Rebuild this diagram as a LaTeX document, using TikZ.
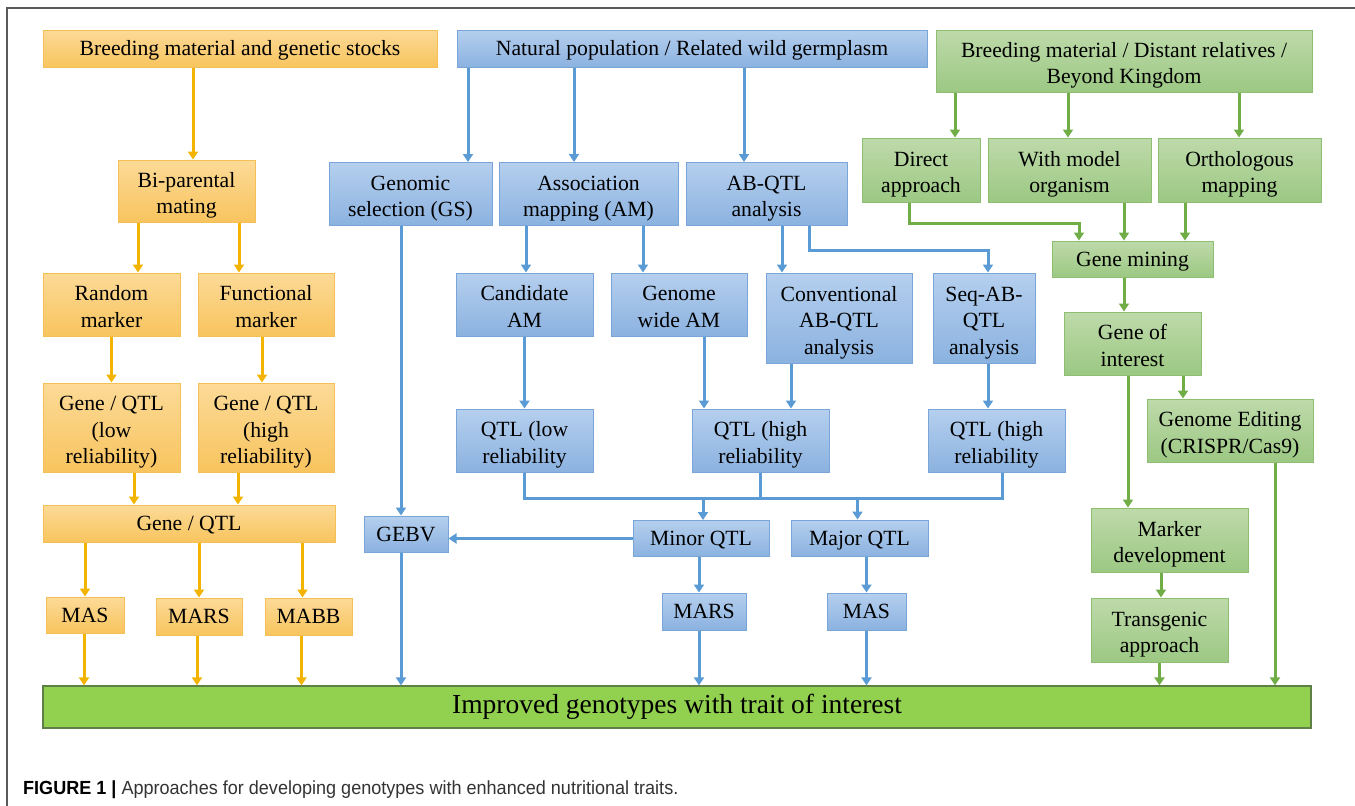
\documentclass[tikz,border=0pt]{standalone}
\usepackage{fontspec}
\setmainfont{Liberation Serif}
\newfontfamily\capfont[FakeStretch=0.95]{Liberation Sans}
\usetikzlibrary{arrows.meta}

\definecolor{orgtop}{HTML}{FCDA97}
\definecolor{orgbot}{HTML}{F8C45E}
\definecolor{orgline}{HTML}{F4BF55}
\definecolor{orgarr}{HTML}{F2B400}
\definecolor{blutop}{HTML}{B5CFEE}
\definecolor{blubot}{HTML}{8BB2E0}
\definecolor{bluline}{HTML}{79A5D8}
\definecolor{bluarr}{HTML}{5B9BD5}
\definecolor{grntop}{HTML}{BEDAAA}
\definecolor{grnbot}{HTML}{9CC883}
\definecolor{grnline}{HTML}{8DBE72}
\definecolor{grnarr}{HTML}{70AD47}
\definecolor{barfill}{HTML}{92D050}
\definecolor{barline}{HTML}{5E7F45}
\definecolor{framegray}{HTML}{5A5A5A}
\definecolor{capgray}{HTML}{333333}

\newcommand{\boxfont}{\fontsize{21.7}{26.5}\selectfont}
% struts with the ascent and descent of the box font
\newcommand{\bstrut}{\rule[-4.7pt]{0pt}{24pt}}
\newcommand{\up}{\rule{0pt}{24pt}}

\begin{document}
\begin{tikzpicture}[x=1pt, y=-1pt,
  box/.style={draw, line width=1pt, align=center, inner sep=0pt, font=\boxfont,
    execute at begin node=\bstrut, execute at end node=\bstrut},
  sz/.style 2 args={minimum width=#1pt, minimum height=#2pt},
  ybox/.style={box, draw=orgline, top color=orgtop, bottom color=orgbot},
  bbox/.style={box, draw=bluline, top color=blutop, bottom color=blubot},
  gbox/.style={box, draw=grnline, top color=grntop, bottom color=grnbot},
  yarr/.style={draw=orgarr, line width=3pt, -{Triangle[width=10pt,length=8pt]}},
  barr/.style={draw=bluarr, line width=3pt, -{Triangle[width=10pt,length=8pt]}},
  garr/.style={draw=grnarr, line width=3pt, -{Triangle[width=10pt,length=8pt]}},
  bline/.style={draw=bluarr, line width=3pt}]

\useasboundingbox (0,0) rectangle (1355,806);

% frame
\draw[framegray, line width=1.5pt] (7,806) -- (7,8) -- (1355,8);

% orange column
\node[ybox, sz={394}{37}] (bms) at (240,48.5) {Breeding material and genetic stocks};
\node[ybox, sz={137}{62}] (bip) at (186.5,191) {\up Bi-parental\\mating};
\node[ybox, sz={137}{63}] (rnd) at (111.5,304.5) {\up Random\\marker};
\node[ybox, sz={136}{63}] (fun) at (266,304.5) {\up Functional\\marker};
\node[ybox, sz={137}{89}] (glow) at (111.5,427.5) {\up Gene / QTL\\(low\\reliability)};
\node[ybox, sz={136}{89}] (ghigh) at (266,427.5) {\up Gene / QTL\\(high\\reliability)};
\node[ybox, sz={292}{37}] (gq) at (189,523.5) {Gene / QTL};
\node[ybox, sz={78}{36}] (omas) at (85,615) {MAS};
\node[ybox, sz={86}{37}] (omars) at (199,616.5) {MARS};
\node[ybox, sz={87}{37}] (omabb) at (308.5,616.5) {MABB};

% blue column
\node[bbox, sz={470}{37}] (nat) at (692,48.5) {Natural population / Related wild germplasm};
\node[bbox, sz={163}{63}] (gs) at (410.5,194) {\up Genomic\\selection (GS)};
\node[bbox, sz={179}{63}] (am) at (588.5,194) {\up Association\\mapping (AM)};
\node[bbox, sz={161}{63}] (abq) at (766.5,194) {\up AB-QTL\\analysis};
\node[bbox, sz={137}{63}] (cam) at (524.5,304.5) {\up Candidate\\AM};
\node[bbox, sz={136}{63}] (gwam) at (679,304.5) {\up Genome\\wide AM};
\node[bbox, sz={146}{90}] (cab) at (839,318) {\up Conventional\\AB-QTL\\analysis};
\node[bbox, sz={102}{90}] (sab) at (984,318) {\up Seq-AB-\\QTL\\analysis};
\node[bbox, sz={137}{63}] (qlow) at (524.5,440.5) {\up QTL (low\\reliability};
\node[bbox, sz={137}{63}] (qhigh) at (760.5,440.5) {\up QTL (high\\reliability};
\node[bbox, sz={137}{63}] (qhigh2) at (996.5,440.5) {\up QTL (high\\reliability};
\node[bbox, sz={84}{36}] (gebv) at (406,534) {GEBV};
\node[bbox, sz={136}{36}] (minq) at (701,538.5) {Minor QTL};
\node[bbox, sz={137}{36}] (majq) at (859.5,538) {Major QTL};
\node[bbox, sz={84}{37}] (bmars) at (704,611.5) {MARS};
\node[bbox, sz={79}{37}] (bmas) at (866.5,611.5) {MAS};

% green column
\node[gbox, sz={376}{62}] (brd) at (1124,61) {\up Breeding material / Distant relatives /\\Beyond Kingdom};
\node[gbox, sz={118}{64}] (dir) at (921,170) {\up Direct\\approach};
\node[gbox, sz={163}{64}] (mod) at (1069.5,170) {\up With model\\organism};
\node[gbox, sz={163}{64}] (orth) at (1239.5,170) {\up Orthologous\\mapping};
\node[gbox, sz={161}{36}] (gmin) at (1132.5,259) {Gene mining};
\node[gbox, sz={137}{63}] (goi) at (1132.5,343.5) {\up Gene of\\interest};
\node[gbox, sz={166}{63}] (ged) at (1230,430.5) {\up Genome Editing\\(CRISPR/Cas9)};
\node[gbox, sz={157}{64}] (mdev) at (1169.5,540) {\up Marker\\development};
\node[gbox, sz={137}{64}] (tra) at (1159.5,630) {\up Transgenic\\approach};

% result bar
\node[draw=barline, fill=barfill, line width=1.2pt, sz={1268}{42},
  font=\fontsize{27.5}{30}\selectfont] (bar) at (677,707) {Improved genotypes with trait of interest};

% caption
\node[anchor=base west, inner sep=0pt, text=capgray,
  font=\capfont\fontsize{19}{22}\selectfont] (cap) at (23,794)
  {\textbf{\color{black}FIGURE 1 |} Approaches for developing genotypes with enhanced nutritional traits.};

% orange arrows
\draw[yarr] ([xshift=-47pt]bms.south) -- ([xshift=-47pt]bms.south |- bip.north);
\draw[yarr] ([xshift=-48.5pt]bip.south) -- ([xshift=-48.5pt]bip.south |- rnd.north);
\draw[yarr] ([xshift=52.5pt]bip.south) -- ([xshift=52.5pt]bip.south |- fun.north);
\draw[yarr] (rnd) -- (glow);
\draw[yarr] ([xshift=-4pt]fun.south) -- ([xshift=-4pt]fun.south |- ghigh.north);
\draw[yarr] ([xshift=22.5pt]glow.south) -- ([xshift=22.5pt]glow.south |- gq.north);
\draw[yarr] ([xshift=-28pt]ghigh.south) -- ([xshift=-28pt]ghigh.south |- gq.north);
\draw[yarr] (gq.south -| omas) -- (omas);
\draw[yarr] (gq.south -| omars) -- (omars);
\draw[yarr] ([xshift=-6pt]omabb.north |- gq.south) -- ([xshift=-6pt]omabb.north);
\foreach \n/\dx in {omas/-1,omars/-2,omabb/-7}
  \draw[yarr] ([xshift=\dx pt]\n.south) -- ([xshift=\dx pt]\n.south |- bar.north);

% blue arrows
\draw[barr] ([xshift=-224pt]nat.south) -- ([xshift=-224pt]nat.south |- gs.north);
\draw[barr] ([xshift=-118pt]nat.south) -- ([xshift=-118pt]nat.south |- am.north);
\draw[barr] ([xshift=52pt]nat.south) -- ([xshift=52pt]nat.south |- abq.north);
\draw[barr] ([xshift=-9.5pt]gs.south) -- ([xshift=-9.5pt]gs.south |- gebv.north);
\draw[barr] ([xshift=-62.5pt]am.south) -- ([xshift=-62.5pt]am.south |- cam.north);
\draw[barr] ([xshift=54.5pt]am.south) -- ([xshift=54.5pt]am.south |- gwam.north);
\draw[barr] ([xshift=15.5pt]abq.south) -- ([xshift=15.5pt]abq.south |- cab.north);
\draw[barr] ([xshift=42.5pt]abq.south) -- ++(0,24) -| ([xshift=4pt]sab.north);
\draw[barr] (cam) -- (qlow);
\draw[barr] ([xshift=25pt]gwam.south) -- ([xshift=25pt]gwam.south |- qhigh.north);
\draw[barr] ([xshift=-48pt]cab.south) -- ([xshift=-48pt]cab.south |- qhigh.north);
\draw[barr] ([xshift=4pt]sab.south) -- ([xshift=4pt]sab.south |- qhigh2.north);

% collecting line
\coordinate (bus) at (0,498);
\draw[bline] (qlow.south) -- (qlow.south |- bus) -- ([xshift=5.5pt]qhigh2.south |- bus) -- ([xshift=5.5pt]qhigh2.south);
\draw[bline] (qhigh.south) -- (qhigh.south |- bus);
\draw[barr] ([xshift=2pt]minq.north |- bus) -- ([xshift=2pt]minq.north);
\draw[barr] ([xshift=-2pt]majq.north |- bus) -- ([xshift=-2pt]majq.north);
\draw[barr] (minq.west) -- (minq.west -| gebv.east);
\draw[barr] ([xshift=-5pt]gebv.south) -- ([xshift=-5pt]gebv.south |- bar.north);
\draw[barr] ([xshift=-2pt]minq.south) -- ([xshift=-2pt]minq.south |- bmars.north);
\draw[barr] ([xshift=-5pt]bmars.south) -- ([xshift=-5pt]bmars.south |- bar.north);
\draw[barr] (bmas.north |- majq.south) -- (bmas.north);
\draw[barr] (bmas) -- (bmas |- bar.north);

% green arrows
\draw[garr] ([xshift=-169pt]brd.south) -- ([xshift=-169pt]brd.south |- dir.north);
\draw[garr] ([xshift=-56pt]brd.south) -- ([xshift=-56pt]brd.south |- mod.north);
\draw[garr] ([xshift=115pt]brd.south) -- ([xshift=115pt]brd.south |- orth.north);
\draw[garr] ([xshift=-12pt]dir.south) -- ++(0,21) -| ([xshift=-53.5pt]gmin.north);
\draw[garr] ([xshift=54.5pt]mod.south) -- ([xshift=54.5pt]mod.south |- gmin.north);
\draw[garr] ([xshift=-54.5pt]orth.south) -- ([xshift=-54.5pt]orth.south |- gmin.north);
\draw[garr] ([xshift=-8.5pt]gmin.south) -- ([xshift=-8.5pt]gmin.south |- goi.north);
\draw[garr] ([xshift=50.5pt]goi.south) -- ([xshift=50.5pt]goi.south |- ged.north);
\draw[garr] ([xshift=-4.5pt]goi.south) -- ([xshift=-4.5pt]goi.south |- mdev.north);
\draw[garr] ([xshift=45pt]ged.south) -- ([xshift=45pt]ged.south |- bar.north);
\draw[garr] ([xshift=-8.5pt]mdev.south) -- ([xshift=-8.5pt]mdev.south |- tra.north);
\draw[garr] (tra) -- (tra |- bar.north);

\end{tikzpicture}
\end{document}
